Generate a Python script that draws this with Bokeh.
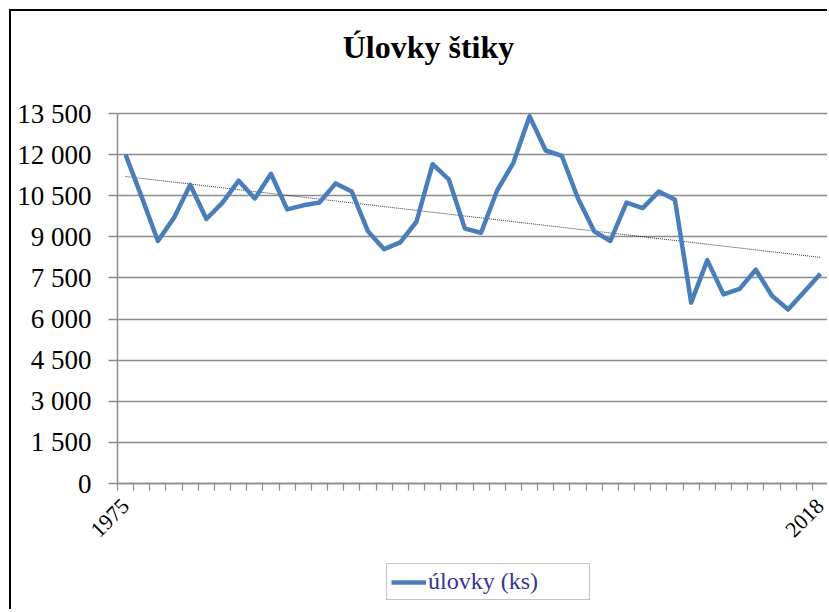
import numpy as np
from bokeh.plotting import figure
from bokeh.models import Range1d, FixedTicker, Legend, LegendItem, Label
from bokeh.embed import file_html
from bokeh.resources import INLINE

years = list(range(1975, 2019))
catches = [12000, 10450, 8850, 9700, 10900, 9650, 10250, 11050, 10400, 11300,
           10000, 10150, 10250, 10950, 10650, 9200, 8550, 8800, 9550, 11650,
           11100, 9300, 9150, 10700, 11700, 13400, 12150, 11950, 10400, 9200,
           8850, 10250, 10050, 10650, 10350, 6600, 8150, 6900, 7100, 7800,
           6850, 6350, 7000, 7650]
y_ticks = [0, 1500, 3000, 4500, 6000, 7500, 9000, 10500, 12000, 13500]
y_tick_labels = ["0", "1 500", "3 000", "4 500", "6 000", "7 500", "9 000",
                 "10 500", "12 000", "13 500"]
x_tick_years = [1975, 2018]
title_text = "Úlovky štiky"
series_name = "úlovky (ks)"

FONT = "Liberation Serif"
GRID = "#8c8c8c"

# layout in pixels: plot area 711 x 370 px, 106 px left of it, 102 px above, 128 px below
X0, X1 = years[0] - 0.5, years[-1] + 0.5
XPX = (X1 - X0) / 711.0
YPX = (y_ticks[-1] - y_ticks[0]) / 370.0

p = figure(width=818, height=600, output_backend="svg", toolbar_location=None,
           x_range=Range1d(X0 - 106 * XPX, X1 + 1 * XPX),
           y_range=Range1d(y_ticks[0] - 128 * YPX, y_ticks[-1] + 102 * YPX),
           min_border_left=0, min_border_top=0, min_border_right=0,
           min_border_bottom=0,
           background_fill_color="white", border_fill_color="white",
           styles={"border-left": "2px solid black", "border-top": "2px solid black",
                   "margin-left": "9px", "margin-top": "9px"})
p.outline_line_color = None

# value axis
yax = p.yaxis[0]
yax.fixed_location = X0
yax.ticker = FixedTicker(ticks=y_ticks)
yax.bounds = (y_ticks[0], y_ticks[-1])
yax.major_label_overrides = {t: l for t, l in zip(y_ticks, y_tick_labels)}
yax.major_label_text_font = FONT
yax.major_label_text_font_size = "27px"
yax.major_label_text_color = "black"
yax.major_label_standoff = 17
yax.major_tick_out = 9
yax.major_tick_in = 0
yax.minor_tick_out = 0
yax.minor_tick_in = 0
yax.axis_line_color = GRID
yax.axis_line_width = 1.5
yax.major_tick_line_color = GRID
yax.major_tick_line_width = 1.5

# category (year) axis
xax = p.xaxis[0]
xax.fixed_location = y_ticks[0]
xax.bounds = (X0, X1)
xax.ticker = FixedTicker(ticks=x_tick_years,
                         minor_ticks=[y - 0.5 for y in years] + [years[-1] + 0.5])
xax.major_label_text_font = FONT
xax.major_label_text_font_size = "22px"
xax.major_label_text_color = "black"
xax.major_label_orientation = np.pi / 4
xax.major_label_standoff = 12
xax.major_tick_out = 0
xax.major_tick_in = 0
xax.minor_tick_out = 7
xax.minor_tick_in = 0
xax.minor_tick_line_color = GRID
xax.minor_tick_line_width = 1.2
xax.axis_line_color = GRID
xax.axis_line_width = 1.5

p.xgrid.visible = False
p.ygrid.ticker = FixedTicker(ticks=y_ticks)
p.ygrid.cross_bounds = (X0, X1)
p.ygrid.grid_line_color = GRID
p.ygrid.grid_line_width = 1.5

# trend line (least squares fit of the data)
yr = np.array(years, dtype=float)
coef = np.polyfit(yr, np.array(catches, dtype=float), 1)
p.line(yr, np.polyval(coef, yr), line_color="black", line_width=1,
       line_dash="1 1", line_alpha=0.8)

main = p.line(years, catches, line_color="#4a7ebb", line_width=4.5,
              line_join="round")

# chart title
p.add_layout(Label(x=X0 + 311 * XPX, y=y_ticks[-1] + 67 * YPX,
                   text=title_text, text_font=FONT, text_font_size="32px",
                   text_font_style="bold", text_color="black",
                   text_align="center", text_baseline="alphabetic"))

legend = Legend(items=[LegendItem(label=series_name, renderers=[main])],
                location=(375, 11), orientation="horizontal",
                border_line_color=GRID, border_line_width=1.5,
                background_fill_color="white", background_fill_alpha=1,
                label_text_font=FONT, label_text_font_size="24px",
                label_text_color="#353597", glyph_width=35, glyph_height=20,
                label_standoff=2, padding=4, margin=0,
                label_height=20, label_width=157)
p.add_layout(legend)

open("out.html", "w").write(file_html(p, INLINE))
